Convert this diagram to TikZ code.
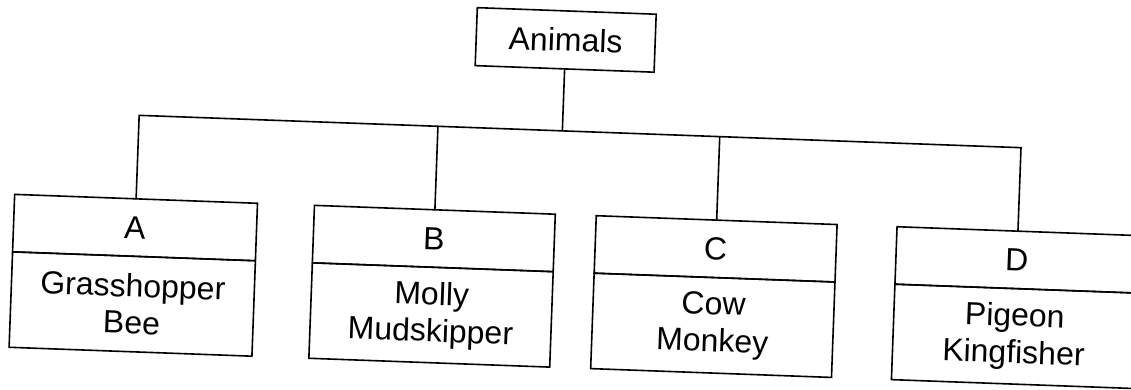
\documentclass[tikz,border=0pt]{standalone}
\usepackage{fontspec}
\setmainfont{Liberation Sans}
\begin{document}
\begin{tikzpicture}[x=1pt,y=1pt,
  box/.style={draw=black, line width=1.6pt, outer sep=0pt, inner sep=0pt,
    font=\fontsize{32}{37}\selectfont, align=center},
  head/.style={box, minimum height=57.5pt},
  body/.style={box, minimum height=95.5pt, anchor=north},
  wire/.style={draw=black, line width=1.6pt, line cap=round, line join=miter}
]
\useasboundingbox (0,0) rectangle (1131,-390);
\clip (0,0) rectangle (1131,-390);
% the whole chart sits slightly tilted on the page
\begin{scope}[shift={(565,-195)}, rotate=-2.1, transform shape]
  % root
  \node[box, minimum width=179pt, minimum height=58pt] (animals) at (-5,155) {Animals};

  % group headers
  \node[head, minimum width=243pt] (hA) at (-428.5,-48.3) {A};
  \node[head, minimum width=241pt] (hB) at (-129.5,-48.3) {B};
  \node[head, minimum width=241pt] (hC) at (152.5,-48.3) {C};
  \node[head, minimum width=242pt] (hD) at (454,-48.3) {D};

  % group members
  \node[body, minimum width=243pt] (bA) at (hA.south) {Grasshopper\\Bee};
  \node[body, minimum width=241pt] (bB) at (hB.south) {Molly\\Mudskipper};
  \node[body, minimum width=241pt] (bC) at (hC.south) {Cow\\Monkey};
  \node[body, minimum width=242pt] (bD) at (hD.south) {Pigeon\\Kingfisher};

  % junctions on the horizontal bar
  \coordinate (jR) at (-5,64);
  \coordinate (jA) at (-428.5,64);
  \coordinate (jB) at (-129.5,64);
  \coordinate (jC) at (152.5,64);
  \coordinate (jD) at (454,64);

  % tree connectors
  \draw[wire] (animals.south) -- (jR);
  \draw[wire] (hA.north) -- (jA) -- (jD) -- (hD.north);
  \draw[wire] (hB.north) -- (jB);
  \draw[wire] (hC.north) -- (jC);
\end{scope}
\end{tikzpicture}
\end{document}
